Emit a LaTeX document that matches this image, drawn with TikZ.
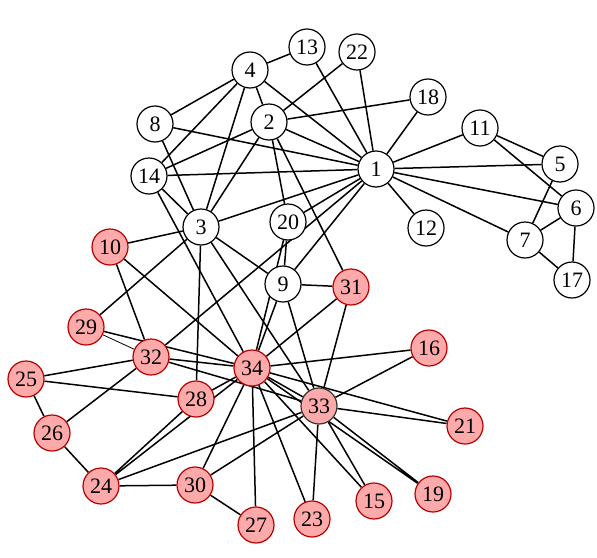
\documentclass[tikz,border=0pt]{standalone}
\usepackage{fontspec}
\setmainfont{Liberation Serif}
\usepackage{xcolor}
\usepackage{tikz}
\definecolor{pinkfill}{HTML}{FFAAAA}
\definecolor{pinkdraw}{HTML}{B80000}
\pgfdeclarelayer{edges}
\pgfsetlayers{edges,main}

\begin{document}
\begin{tikzpicture}[x=1pt,y=-1pt]
  \tikzstyle{member} = [circle, draw, line width=1.2pt, fill=white, minimum size=36pt, inner sep=0pt, font=\fontsize{22}{22}\selectfont]
  \tikzstyle{rebel} = [member, draw=pinkdraw, fill=pinkfill]
  \tikzstyle{line} = [draw, line width=1.5pt]
  \useasboundingbox (0,0) rectangle (597,557);

  % Mr Hi side
  \node[member] (v1) at (376,169) {1};
  \node[member] (v2) at (269,122) {2};
  \node[member] (v3) at (201,227) {3};
  \node[member] (v4) at (250,70) {4};
  \node[member] (v5) at (560,164) {5};
  \node[member] (v6) at (576,208) {6};
  \node[member] (v7) at (525,240) {7};
  \node[member] (v8) at (155,124) {8};
  \node[member] (v9) at (283,284) {9};
  \node[member] (v11) at (480,128) {11};
  \node[member] (v12) at (426,228) {12};
  \node[member] (v13) at (307,47) {13};
  \node[member] (v14) at (149,176) {14};
  \node[member] (v17) at (572,280) {17};
  \node[member] (v18) at (428,97) {18};
  \node[member] (v20) at (288,222) {20};
  \node[member] (v22) at (357,52) {22};

  % officer side
  \node[rebel] (v10) at (110,247) {10};
  \node[rebel] (v15) at (374,501) {15};
  \node[rebel] (v16) at (429,348) {16};
  \node[rebel] (v19) at (433,494) {19};
  \node[rebel] (v21) at (465,426) {21};
  \node[rebel] (v23) at (312,519) {23};
  \node[rebel] (v24) at (101,486) {24};
  \node[rebel] (v25) at (26,379) {25};
  \node[rebel] (v26) at (52,433) {26};
  \node[rebel] (v27) at (256,525) {27};
  \node[rebel] (v28) at (196,399) {28};
  \node[rebel] (v29) at (86,327) {29};
  \node[rebel] (v30) at (195,485) {30};
  \node[rebel] (v31) at (351,287) {31};
  \node[rebel] (v32) at (151,357) {32};
  \node[rebel, draw=black!80] (v33) at (319,406) {33};
  \node[rebel] (v34) at (252,368) {34};

  % ties, kept behind the circles
  \begin{pgfonlayer}{edges}
  \draw[line] (v1) -- (v2) (v1) -- (v3) (v1) -- (v4) (v1) -- (v5) (v1) -- (v6) (v1) -- (v7) (v1) -- (v8) (v1) -- (v9);
  \draw[line] (v1) -- (v11) (v1) -- (v12) (v1) -- (v13) (v1) -- (v14) (v1) -- (v18) (v1) -- (v20) (v1) -- (v22) (v1) -- (v32);
  \draw[line] (v2) -- (v3) (v2) -- (v4) (v2) -- (v14) (v2) -- (v18) (v2) -- (v20) (v2) -- (v22) (v2) -- (v31);
  \draw[line] (v3) -- (v4) (v3) -- (v8) (v3) -- (v9) (v3) -- (v10) (v3) -- (v14) (v3) -- (v28) (v3) -- (v29) (v3) -- (v33);
  \draw[line] (v4) -- (v8) (v4) -- (v13) (v4) -- (v14);
  \draw[line] (v5) -- (v7) (v5) -- (v11);
  \draw[line] (v6) -- (v7) (v6) -- (v11) (v6) -- (v17);
  \draw[line] (v7) -- (v17);
  \draw[line] (v9) -- (v20) (v9) -- (v31) (v9) -- (v33) (v9) -- (v34);
  \draw[line] (v10) -- (v32) (v10) -- (v34);
  \draw[line] (v14) -- (v34);
  \draw[line] (v15) -- (v33) (v15) -- (v34);
  \draw[line] (v16) -- (v33) (v16) -- (v34);
  \draw[line] (v19) -- (v33) (v19) -- (v34);
  \draw[line] (v20) -- (v34);
  \draw[line] (v21) -- (v33) (v21) -- (v34);
  \draw[line] (v23) -- (v33) (v23) -- (v34);
  \draw[line] (v24) -- (v26) (v24) -- (v28) (v24) -- (v30) (v24) -- (v33) (v24) -- (v34);
  \draw[line] (v25) -- (v26) (v25) -- (v28) (v25) -- (v32);
  \draw[line] (v26) -- (v32);
  \draw[line] (v27) -- (v30) (v27) -- (v34);
  \draw[line] (v28) -- (v34);
  \draw[line] (v29) -- (v34);
  \draw[line, line width=0.8pt] (v29) -- (v32);
  \draw[line] (v30) -- (v33) (v30) -- (v34);
  \draw[line] (v31) -- (v33) (v31) -- (v34);
  \draw[line] (v32) -- (v33) (v32) -- (v34);
  \draw[line] (v33) -- (v34);
  \end{pgfonlayer}
\end{tikzpicture}
\end{document}
